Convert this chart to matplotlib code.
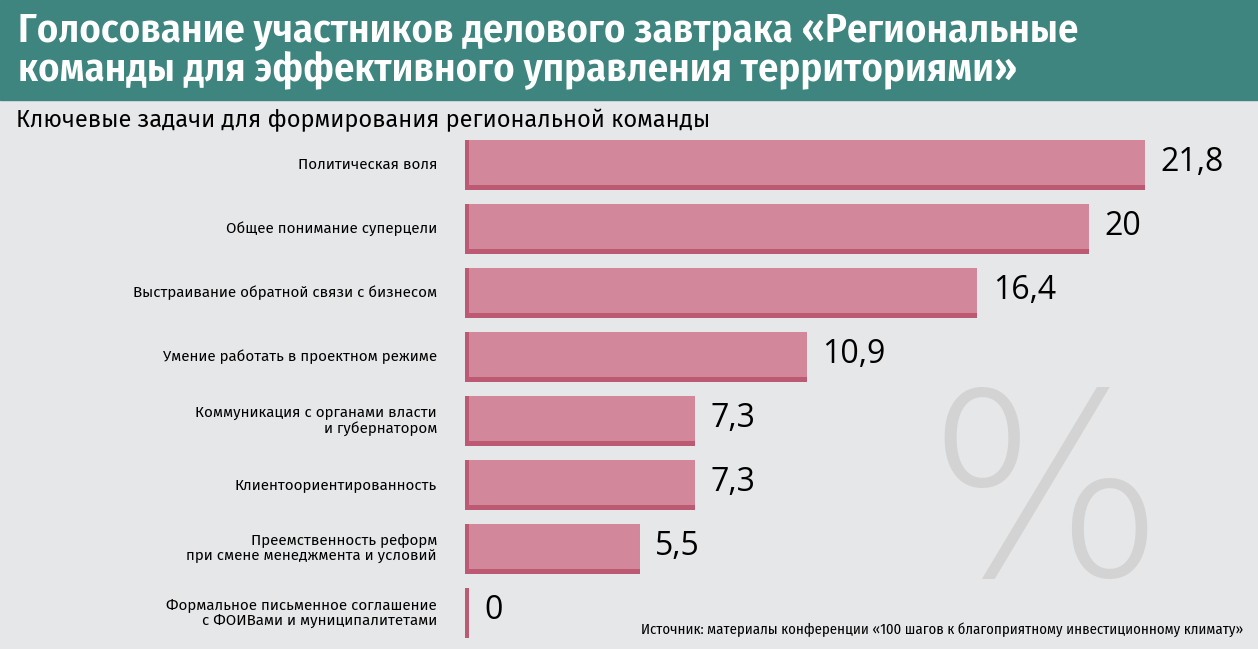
import matplotlib.pyplot as plt

categories = [
    "Политическая воля",
    "Общее понимание суперцели",
    "Выстраивание обратной связи с бизнесом",
    "Умение работать в проектном режиме",
    "Коммуникация с органами власти\nи губернатором",
    "Клиентоориентированность",
    "Преемственность реформ\nпри смене менеджмента и условий",
    "Формальное письменное соглашение\nс ФОИВами и муниципалитетами",
]
values = [21.8, 20, 16.4, 10.9, 7.3, 7.3, 5.5, 0]
value_labels = ["21,8", "20", "16,4", "10,9", "7,3", "7,3", "5,5", "0"]

plt.rcParams["font.family"] = ["Fira Sans Condensed", "DejaVu Sans"]
wide = ["Fira Sans", "Fira Sans Condensed", "DejaVu Sans"]

W, H = 1258, 649
fig = plt.figure(figsize=(W / 100, H / 100), dpi=100)
fig.patch.set_facecolor("#e6e7e9")

# шапка
fig.patches.append(plt.Rectangle((0, 1 - 100 / H), 1, 100 / H, transform=fig.transFigure,
                                 color="#3e8580", zorder=0))
fig.text(18 / W, 1 - 30 / H, "Голосование участников делового завтрака «Региональные",
         color="white", fontsize=29.3, fontweight="semibold", va="center", ha="left")
fig.text(18 / W, 1 - 70 / H, "команды для эффективного управления территориями»",
         color="white", fontsize=29.3, fontweight="semibold", va="center", ha="left")
fig.text(16 / W, 1 - 120 / H, "Ключевые задачи для формирования региональной команды",
         color="black", fontsize=17, va="center", ha="left", family=wide)

# водяной знак
fig.text(1045 / W, 1 - 505 / H, "%", color="#d3d3d3", fontsize=182, ha="center", va="center",
         family="DejaVu Sans", fontweight=200)

px = 31.0   # пикселей на единицу
x0 = 469    # начало столбцов
edge = 4 / px
ax_left, ax_right = x0 - 4, 1258
ax_top, ax_bot = 133, 645
ax = fig.add_axes([ax_left / W, 1 - ax_bot / H, (ax_right - ax_left) / W, (ax_bot - ax_top) / H])
ax.set_facecolor("none")
ax.set_xlim(-edge, (ax_right - x0) / px)
ax.set_ylim(len(values) - 0.5, -0.5)
ax.axis("off")

ypos = list(range(len(values)))
h = 0.78
dy = 5 / 64
# тень (слева и снизу)
ax.barh(ypos, [v + edge for v in values], height=h, left=-edge, color="#bb5a72", zorder=2)
# лицевая часть
ax.barh([y - dy / 2 for y in ypos], values, height=h - dy, left=0, color="#d2879a", zorder=3)

for y, v, lab in zip(ypos, values, value_labels):
    ax.text(v + 0.5, y - 0.04, lab, fontsize=23, va="center", ha="left", color="black",
            zorder=4, family=["Open Sans", "DejaVu Sans"])
    fig.text(437 / W, 1 - (165 + 64 * y) / H, categories[y], fontsize=10.9,
             ha="right", va="center", color="black", linespacing=1.1, family=wide)

fig.text(1243 / W, 1 - 630 / H,
         "Источник: материалы конференции «100 шагов к благоприятному инвестиционному климату»",
         fontsize=10.6, ha="right", va="center", color="black")

fig.savefig("out.png", dpi=100, facecolor=fig.get_facecolor())
